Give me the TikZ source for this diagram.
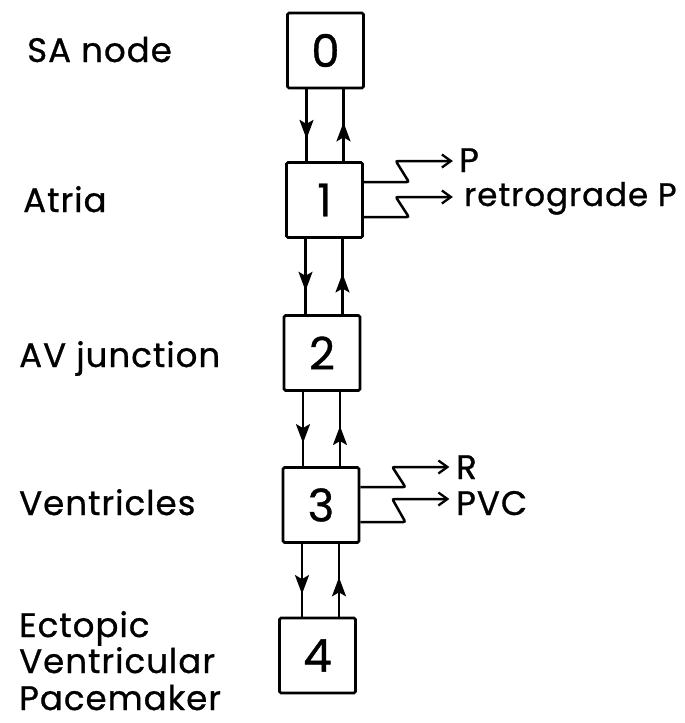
\documentclass[tikz,border=0pt]{standalone}
\usepackage{fontspec}
\setmainfont{Poppins}[FakeBold=0.8,LetterSpace=3]
\usetikzlibrary{arrows.meta,decorations.markings}
\begin{document}
\begin{tikzpicture}[x=1pt,y=-1pt,
  box/.style={draw,line width=2.7pt,minimum width=76pt,minimum height=75pt,inner sep=0pt,rounded corners=1.5pt,font=\fontsize{45}{45}\selectfont},
  lbl/.style={anchor=base west,inner sep=0pt,font=\fontsize{34}{37}\selectfont},
  conn/.style={line width=2.4pt},
  headtip/.tip={Stealth[length=19pt,width=14pt,inset=4pt]},
  downarr/.style={conn,postaction={decorate},decoration={markings,mark=at position 0.69 with {\arrow{headtip}}}},
  uparr/.style={conn,postaction={decorate},decoration={markings,mark=at position 0.54 with {\arrow{headtip}}}},
  wave/.style={line width=2.5pt,rounded corners=2pt,-{Straight Barb[length=9pt,width=13pt,line width=2.3pt]}}
]
\useasboundingbox (0,0) rectangle (685,723);
% boxes
\node[box] (b0) at (325.5,50.5) {0};
\node[box] (b1) at (324.5,200) {1};
\node[box] (b2) at (322,353) {2};
\node[box] (b3) at (321,505) {3};
\node[box] (b4) at (317.5,655.5) {4};
% vertical connectors
\foreach \a/\b in {b0/b1,b1/b2,b2/b3,b3/b4}{
  \draw[downarr] ([xshift=-19pt]\a.south) -- ([xshift=-19pt]\a.south |- \b.north);
  \draw[uparr] ([xshift=18pt]\a.south |- \b.north) -- ([xshift=18pt]\a.south);
}
% left labels
\node[lbl] (lsa) at (27,62) {SA node};
\node[lbl] (lat) at (23,212) {Atria};
\node[lbl] (lav) at (19,367) {AV junction};
\node[lbl] (lve) at (19,515) {Ventricles};
\node[lbl] (lec1) at (19,637) {Ectopic};
\node[lbl] (lec2) at (19,673) {Ventricular};
\node[lbl] (lec3) at (19,710) {Pacemaker};
% output squiggles
\draw[wave] ([yshift=18pt]b1.east) -- ++(45,0) -- ++(-13,-21) -- ++(57,0);
\draw[wave] ([yshift=-17pt]b1.east) -- ++(45,0) -- ++(-13,-20) -- ++(57,0);
\draw[wave] ([yshift=18pt]b3.east) -- ++(45,0) -- ++(-13,-20) -- ++(57,0);
\draw[wave] ([yshift=-17pt]b3.east) -- ++(45,0) -- ++(-13,-23) -- ++(57,0);
\node[lbl] (lp) at (459,172) {P};
\node[lbl,font=\fontsize{32.5}{37}\selectfont] (lrp) at (464,206) {retrograde P};
\node[lbl] (lr) at (456,479) {R};
\node[lbl] (lpvc) at (456,515) {PVC};
\end{tikzpicture}
\end{document}
